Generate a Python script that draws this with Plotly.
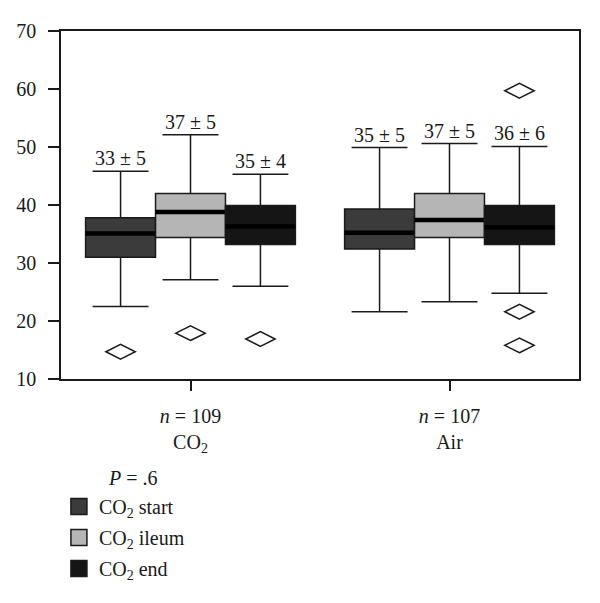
import plotly.graph_objects as go

# --- data ---
groups = ["CO2", "Air"]
group_ticks = ["<i>n</i> = 109<br>CO<sub>2</sub>", "<i>n</i> = 107<br>Air"]

series_names = ["CO<sub>2</sub> start", "CO<sub>2</sub> ileum", "CO<sub>2</sub> end"]
series_colors = ["#3b3b3b", "#b5b5b5", "#151515"]

start_q1 = [31.0, 32.4]
start_med = [35.1, 35.2]
start_q3 = [37.8, 39.3]
start_lo = [22.5, 21.6]
start_hi = [45.8, 49.9]
start_out = [[14.7], []]
start_lbl = ["33 ± 5", "35 ± 5"]

ileum_q1 = [34.4, 34.4]
ileum_med = [38.8, 37.4]
ileum_q3 = [42.0, 42.0]
ileum_lo = [27.1, 23.3]
ileum_hi = [52.1, 50.6]
ileum_out = [[17.9], []]
ileum_lbl = ["37 ± 5", "37 ± 5"]

end_q1 = [33.2, 33.2]
end_med = [36.3, 36.1]
end_q3 = [39.9, 39.9]
end_lo = [26.0, 24.8]
end_hi = [45.3, 50.1]
end_out = [[16.9], [15.8, 21.6, 59.7]]
end_lbl = ["35 ± 4", "36 ± 6"]

series = [
    (start_q1, start_med, start_q3, start_lo, start_hi, start_out, start_lbl),
    (ileum_q1, ileum_med, ileum_q3, ileum_lo, ileum_hi, ileum_out, ileum_lbl),
    (end_q1, end_med, end_q3, end_lo, end_hi, end_out, end_lbl),
]

FONT = "Liberation Serif"
FS = 20
INK = "#1a1a1a"
W, H = 600, 603
ML, MR, MT, MB = 61, 21, 31, 224
BOXGAP = 0.19

fig = go.Figure()

for i, (q1, med, q3, lo, hi, out, lbl) in enumerate(series):
    grp = "s%d" % i
    fig.add_trace(go.Box(
        name=series_names[i], x=groups, y=out,
        q1=q1, median=med, q3=q3, lowerfence=lo, upperfence=hi,
        offsetgroup=grp, legendgroup=grp, showlegend=False,
        fillcolor=series_colors[i],
        line=dict(color=INK, width=1.5), whiskerwidth=0.8,
        boxpoints="outliers", jitter=0, pointpos=0,
        marker=dict(symbol="diamond-wide-open", size=21, color=INK,
                    line=dict(width=1.5, color=INK)),
    ))
    # thick median bar drawn as a flat box on the same slot
    fig.add_trace(go.Box(
        x=groups, q1=med, median=med, q3=med, lowerfence=med, upperfence=med,
        offsetgroup=grp, legendgroup=grp, fillcolor="black",
        line=dict(color="black", width=4.5),
        whiskerwidth=0, showlegend=False, hoverinfo="skip",
    ))
    # bigger square swatch for the legend
    fig.add_trace(go.Scatter(
        x=[None], y=[None], mode="markers", name=series_names[i],
        legendgroup=grp, showlegend=True,
        marker=dict(symbol="square", size=16, color=series_colors[i],
                    line=dict(color=INK, width=1.5)),
    ))

# mean ± sd labels above each upper whisker
plot_w = W - ML - MR
plot_h = H - MT - MB
box_px = plot_w / len(groups) * (1 - BOXGAP) / len(series)
for i, (q1, med, q3, lo, hi, out, lbl) in enumerate(series):
    for g, top, txt in zip(groups, hi, lbl):
        fig.add_annotation(x=g, y=top, text=txt, showarrow=False,
                           xshift=(i - 1) * box_px, yshift=0, yanchor="bottom",
                           font=dict(family=FONT, size=FS, color=INK))

fig.add_annotation(x=(133 - ML) / plot_w, y=-(478 - 379) / plot_h,
                   xref="paper", yref="paper", xanchor="center", yanchor="middle",
                   showarrow=False, text="<i>P</i> = .6",
                   font=dict(family=FONT, size=FS, color=INK))

fig.update_layout(
    width=W, height=H,
    margin=dict(l=ML, r=MR, t=MT, b=MB, autoexpand=False),
    paper_bgcolor="white", plot_bgcolor="white",
    boxmode="group", boxgap=BOXGAP, boxgroupgap=0,
    font=dict(family=FONT, size=FS, color=INK),
    legend=dict(x=-0.004, xanchor="left", y=-0.31, yanchor="top",
                tracegroupgap=2, itemsizing="trace",
                font=dict(family=FONT, size=FS, color=INK), bgcolor="rgba(0,0,0,0)"),
    showlegend=True,
)
fig.update_xaxes(type="category", range=[-0.5, 1.5], tickvals=groups,
                 ticktext=group_ticks, automargin=False,
                 showline=True, mirror=True, linecolor=INK, linewidth=1.5,
                 ticks="outside", ticklen=10, tickwidth=1.5, tickcolor=INK,
                 ticklabelstandoff=8, showgrid=False, zeroline=False)
fig.update_yaxes(range=[10, 70], dtick=10, automargin=False,
                 showline=True, mirror=True,
                 linecolor=INK, linewidth=1.5, ticks="outside", ticklen=11,
                 tickwidth=1.5, tickcolor=INK, ticklabelstandoff=8,
                 showgrid=False, zeroline=False)

# drop the page's default body margin so the figure sits at the window corner
fig.write_html("out.html", config={"displayModeBar": False},
               post_script="document.body.style.margin='0';")
